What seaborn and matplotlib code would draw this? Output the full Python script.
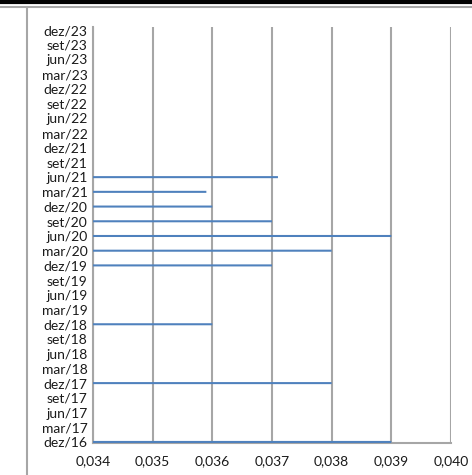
import numpy as np
import pandas as pd
import matplotlib.pyplot as plt
import matplotlib.lines as mlines
import seaborn as sns
from matplotlib.ticker import FuncFormatter, MultipleLocator

# -----------------------------
# Data (quarterly, oldest first)
# -----------------------------
periods = [
    "dez/16", "mar/17", "jun/17", "set/17",
    "dez/17", "mar/18", "jun/18", "set/18",
    "dez/18", "mar/19", "jun/19", "set/19",
    "dez/19", "mar/20", "jun/20", "set/20",
    "dez/20", "mar/21", "jun/21", "set/21",
    "dez/21", "mar/22", "jun/22", "set/22",
    "dez/22", "mar/23", "jun/23", "set/23",
    "dez/23",
]
values = [
    0.039, np.nan, np.nan, np.nan,
    0.038, np.nan, np.nan, np.nan,
    0.036, np.nan, np.nan, np.nan,
    0.037, 0.038, 0.039, 0.037,
    0.036, 0.0359, 0.0371, np.nan,
    np.nan, np.nan, np.nan, np.nan,
    np.nan, np.nan, np.nan, np.nan,
    np.nan,
]

df = pd.DataFrame({"period": periods, "value": values})

sns.set_style("white")
plt.rcParams["font.family"] = ["Lato", "DejaVu Sans"]

fig = plt.figure(figsize=(4.72, 4.75), dpi=100)
ax = fig.add_axes([0.197, 0.0674, 0.7585, 0.8756])

# newest period on top
order = periods[::-1]
sns.barplot(data=df, y="period", x="value", order=order, orient="h",
            color="#4F81BD", width=0.14, saturation=1, ax=ax, zorder=3,
            linewidth=0, snap=False)

ax.set_xlim(0.034, 0.040)
ax.set_ylim(len(order) - 1 + 0.07, -0.2)
ax.xaxis.set_major_locator(MultipleLocator(0.001))
ax.xaxis.set_major_formatter(FuncFormatter(lambda v, p: f"{v:.3f}".replace(".", ",")))
ax.grid(axis="x", color="#A6A6A6", linewidth=1.5, zorder=0)
ax.set_axisbelow(True)

for s in ["top", "right"]:
    ax.spines[s].set_visible(False)
for s in ["left", "bottom"]:
    ax.spines[s].set_color("#A6A6A6")
    ax.spines[s].set_linewidth(1.5)

ax.set_xlabel("")
ax.set_ylabel("")
ax.tick_params(axis="both", length=0, labelsize=10, colors="#1a1a1a")
ax.tick_params(axis="x", pad=9)
ax.tick_params(axis="y", pad=4)

# outer chart frame like the spreadsheet export
fig.add_artist(mlines.Line2D([0, 1], [1 - 1.5 / 475] * 2, color="black", linewidth=3))
fig.add_artist(mlines.Line2D([0, 1], [1 - 7 / 475] * 2, color="#A6A6A6", linewidth=1.5))
fig.add_artist(mlines.Line2D([27 / 472] * 2, [0, 1 - 7 / 475], color="#A6A6A6", linewidth=1.5))

plt.savefig("out.png", dpi=100)
plt.close()
